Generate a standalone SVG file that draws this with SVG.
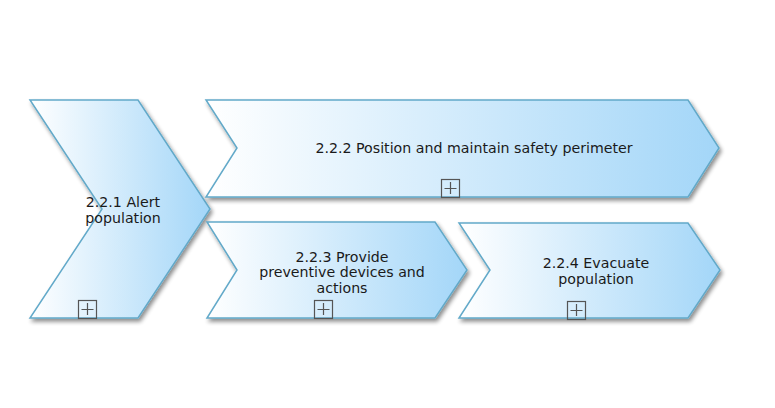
<svg xmlns="http://www.w3.org/2000/svg" width="775" height="408" viewBox="0 0 775 408">
<defs>
<linearGradient id="g" x1="0" y1="0" x2="1" y2="0">
<stop offset="0" stop-color="#ffffff"/>
<stop offset="1" stop-color="#a3d6f8"/>
</linearGradient>
<filter id="sh" x="-10%" y="-10%" width="125%" height="130%">
<feGaussianBlur in="SourceAlpha" stdDeviation="2"/>
<feOffset dx="2" dy="3" result="b"/>
<feComponentTransfer><feFuncA type="linear" slope="0.45"/></feComponentTransfer>
<feMerge><feMergeNode/><feMergeNode in="SourceGraphic"/></feMerge>
</filter>
</defs>
<style>
.s{fill:url(#g);stroke:#62a9c9;stroke-width:1.5;filter:url(#sh)}
.t{font-family:"DejaVu Sans",Verdana,sans-serif;font-size:14.2px;fill:#1a1a1a;text-anchor:middle}
.b{fill:none;stroke:#555;stroke-width:1.2}
</style>
<rect width="775" height="408" fill="#fff"/>
<g id="n221">
<polygon class="s" points="30,100 138,100 210,209 138,318 30,318 102,209"/>
<text class="t" x="123" y="206.5">2.2.1 Alert</text>
<text class="t" x="123" y="222.5">population</text>
<rect class="b" x="78.5" y="300.5" width="18" height="18"/>
<path class="b" d="M87.5,303v12M81.5,309.5h12"/>
</g>
<g id="n222">
<polygon class="s" points="206,100 688,100 719,148 688,197 206,197 237,148"/>
<text class="t" x="474" y="153">2.2.2 Position and maintain safety perimeter</text>
<rect class="b" x="441.5" y="179.5" width="18" height="18"/>
<path class="b" d="M450.5,182v12M444.5,188.5h12"/>
</g>
<g id="n223">
<polygon class="s" points="207,222 435,222 467,270 435,318 207,318 237,270"/>
<text class="t" x="342" y="261.5">2.2.3 Provide</text>
<text class="t" x="342" y="277">preventive devices and</text>
<text class="t" x="342" y="292.5">actions</text>
<rect class="b" x="314.5" y="300.5" width="18" height="18"/>
<path class="b" d="M323.5,303v12M317.5,309.5h12"/>
</g>
<g id="n224">
<polygon class="s" points="459,223 688,223 720,270 688,318 459,318 490,270"/>
<text class="t" x="596" y="267.5">2.2.4 Evacuate</text>
<text class="t" x="596" y="283.5">population</text>
<rect class="b" x="567.5" y="301.5" width="18" height="18"/>
<path class="b" d="M576.5,304v12M570.5,310.5h12"/>
</g>
<g id="connectors"/>
</svg>
